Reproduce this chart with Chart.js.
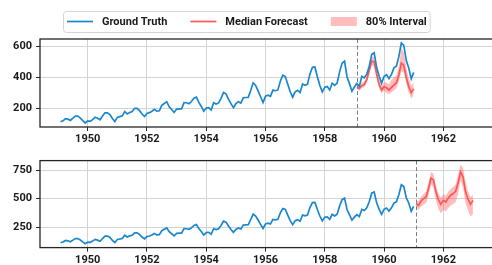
<!DOCTYPE html>
<html>
<head>
<meta charset="utf-8">
<script src="https://cdn.jsdelivr.net/npm/chart.js@4.4.0/dist/chart.umd.min.js"></script>
<style>
html, body { margin: 0; padding: 0; background: #fff; overflow: hidden; width: 492px; height: 265px; }
#topchart { position: absolute; left: 0; top: 0; }
#bottomchart { position: absolute; left: 0; top: 150px; }
</style>
</head>
<body>
<canvas id="topchart" width="500" height="150"></canvas>
<canvas id="bottomchart" width="500" height="115"></canvas>
<script>
// monthly passengers, Jan 1949 - Dec 1960
const firstYear = 1949;
const passengers = [
	112, 118, 132, 129, 121, 135, 148, 148, 136, 119, 104, 118,
	115, 126, 141, 135, 125, 149, 170, 170, 158, 133, 114, 140,
	145, 150, 178, 163, 172, 178, 199, 199, 184, 162, 146, 166,
	171, 180, 193, 181, 183, 218, 230, 242, 209, 191, 172, 194,
	196, 196, 236, 235, 229, 243, 264, 272, 237, 211, 180, 201,
	204, 188, 235, 227, 234, 264, 302, 293, 259, 229, 203, 229,
	242, 233, 267, 269, 270, 315, 364, 347, 312, 274, 237, 278,
	284, 277, 317, 313, 318, 374, 413, 405, 355, 306, 271, 306,
	315, 301, 356, 348, 355, 422, 465, 467, 404, 347, 305, 336,
	340, 318, 362, 348, 363, 435, 491, 505, 404, 359, 310, 337,
	360, 342, 406, 396, 420, 472, 548, 559, 463, 407, 362, 405,
	417, 391, 419, 461, 472, 535, 622, 606, 508, 461, 390, 432
];

// top: forecast from Jan 1959 (month index 120)
const topStart = 120;
const topMedian = [336, 328, 345, 352, 385, 445, 505, 500, 420, 355, 318, 338, 332, 318, 335, 350, 365, 415, 492, 478, 400, 340, 300, 325];
const topLower  = [322, 312, 330, 335, 365, 420, 478, 470, 395, 330, 295, 312, 300, 290, 305, 315, 330, 375, 440, 430, 360, 300, 262, 285];
const topUpper  = [352, 345, 365, 372, 405, 470, 535, 530, 450, 380, 345, 368, 365, 355, 385, 400, 410, 470, 590, 560, 465, 390, 345, 365];

// bottom: forecast from Jan 1961 (month index 144)
const bottomStart = 144;
const bottomMedian = [455, 440, 480, 500, 515, 590, 680, 665, 560, 490, 450, 485, 470, 505, 530, 545, 565, 640, 735, 690, 560, 495, 450, 485];
const bottomLower  = [420, 400, 432, 448, 460, 525, 620, 600, 488, 410, 370, 400, 388, 418, 440, 452, 468, 545, 660, 595, 460, 395, 345, 360];
const bottomUpper  = [485, 478, 520, 540, 560, 640, 735, 722, 615, 545, 505, 540, 525, 560, 585, 605, 625, 715, 800, 770, 635, 565, 515, 535];

const xTicks = [1950, 1952, 1954, 1956, 1958, 1960, 1962];
const topYTicks = [200, 400, 600];
const bottomYTicks = [250, 500, 750];
const legendLabels = ['Ground Truth', 'Median Forecast', '80% Interval'];

const blue = '#1a87cf';
const red = '#ff5757';
const pink = 'rgba(255, 90, 90, 0.4)';
const fontFamily = 'Roboto';
const tickFont = { family: fontFamily, size: 11, weight: 'bold' };

// month-end dates as decimal years
function monthDate(i){
	return firstYear + (i + 1) / 12;
}
function toPoints(values, start){
	return values.map(function(v, i){ return { x: monthDate(start + i), y: v }; });
}

// dashed split line + full frame around the plot
const framePlugin = {
	id: 'frame',
	afterDatasetsDraw: function(chart, args, opts){
		const ctx = chart.ctx;
		const a = chart.chartArea;
		const x = Math.round(chart.scales.x.getPixelForValue(opts.splitAt)) + 0.5;
		ctx.save();
		ctx.strokeStyle = '#7f7f7f';
		ctx.lineWidth = 1;
		ctx.setLineDash([4, 2.5]);
		ctx.beginPath();
		ctx.moveTo(x, a.top);
		ctx.lineTo(x, a.bottom);
		ctx.stroke();
		ctx.setLineDash([]);
		ctx.strokeStyle = '#262626';
		ctx.lineWidth = 1.3;
		ctx.strokeRect(a.left, a.top, a.right - a.left, a.bottom - a.top);
		ctx.restore();
	}
};

// matplotlib-like boxed legend
const boxLegendPlugin = {
	id: 'boxLegend',
	afterDraw: function(chart){
		const ctx = chart.ctx;
		const swatches = [
			{ kind: 'line', color: blue },
			{ kind: 'line', color: red },
			{ kind: 'patch', color: pink }
		];
		const midY = 21.5;
		let x = 67;
		ctx.save();
		ctx.font = 'bold 11px ' + fontFamily;
		const ends = [];
		legendLabels.forEach(function(label, i){
			const s = swatches[i];
			if(s.kind === 'line'){
				ctx.strokeStyle = s.color;
				ctx.lineWidth = 1.7;
				ctx.beginPath();
				ctx.moveTo(x, midY);
				ctx.lineTo(x + 26, midY);
				ctx.stroke();
			} else {
				ctx.fillStyle = s.color;
				ctx.fillRect(x, midY - 4.5, 26, 9);
			}
			ctx.fillStyle = '#1a1a1a';
			ctx.textBaseline = 'middle';
			ctx.fillText(label, x + 35, midY + 0.5);
			const end = x + 35 + ctx.measureText(label).width;
			ends.push(end);
			x = end + 23;
		});
		const left = 63.5, top = 11.5, right = ends[ends.length - 1] + 3.5, bottom = 32.5;
		ctx.strokeStyle = '#d4d4d4';
		ctx.lineWidth = 1;
		ctx.beginPath();
		ctx.roundRect(left, top, right - left, bottom - top, 3);
		ctx.stroke();
		ctx.restore();
	}
};

function makeScales(yMin, yMax, yTicks, xHeight){
	return {
		x: {
			type: 'linear',
			min: 1948.39,
			max: 1963.69,
			afterBuildTicks: function(s){ s.ticks = xTicks.map(function(v){ return { value: v }; }); },
			afterFit: function(s){ s.height = xHeight; },
			grid: { color: '#d3d3d3', lineWidth: 1, tickColor: '#262626', tickLength: 4 },
			border: { display: false },
			ticks: {
				color: '#1a1a1a',
				font: tickFont,
				padding: 2,
				maxRotation: 0,
				autoSkip: false,
				callback: function(v){ return String(v); }
			}
		},
		y: {
			min: yMin,
			max: yMax,
			afterBuildTicks: function(s){ s.ticks = yTicks.map(function(v){ return { value: v }; }); },
			afterFit: function(s){ s.width = 40; },
			grid: { color: '#d3d3d3', lineWidth: 1, tickColor: '#262626', tickLength: 4 },
			border: { display: false },
			ticks: {
				color: '#1a1a1a',
				font: tickFont,
				padding: 4,
				callback: function(v){ return String(v); }
			}
		}
	};
}

function makeDatasets(start, median, lower, upper){
	const line = { pointRadius: 0, tension: 0, fill: false };
	return [
		Object.assign({ data: toPoints(passengers, 0), borderColor: blue, borderWidth: 1.7 }, line),
		Object.assign({ data: toPoints(median, start), borderColor: red, borderWidth: 1.7 }, line),
		{ data: toPoints(upper, start), borderWidth: 0, pointRadius: 0, tension: 0, fill: '+1', backgroundColor: pink },
		Object.assign({ data: toPoints(lower, start), borderWidth: 0 }, line)
	];
}

function makeChart(canvasId, start, median, lower, upper, yMin, yMax, yTicks, padTop, xHeight, withLegend){
	const plugins = [framePlugin];
	if(withLegend){
		plugins.push(boxLegendPlugin);
	}
	new Chart(
		document.getElementById(canvasId),
		{
			type: 'line',
			data: { datasets: makeDatasets(start, median, lower, upper) },
			options: {
				responsive: false,
				animation: false,
				devicePixelRatio: 1,
				layout: { padding: { top: padTop, left: 0, right: 6.6, bottom: 0 } },
				scales: makeScales(yMin, yMax, yTicks, xHeight),
				plugins: {
					legend: { display: false },
					tooltip: { enabled: false },
					frame: { splitAt: monthDate(start) }
				}
			},
			plugins: plugins
		}
	);
}

makeChart('topchart', topStart, topMedian, topLower, topUpper, 78, 648, topYTicks, 39, 23, true);
makeChart('bottomchart', bottomStart, bottomMedian, bottomLower, bottomUpper, 69, 835, bottomYTicks, 9.3, 17.4, false);
</script>
</body>
</html>
